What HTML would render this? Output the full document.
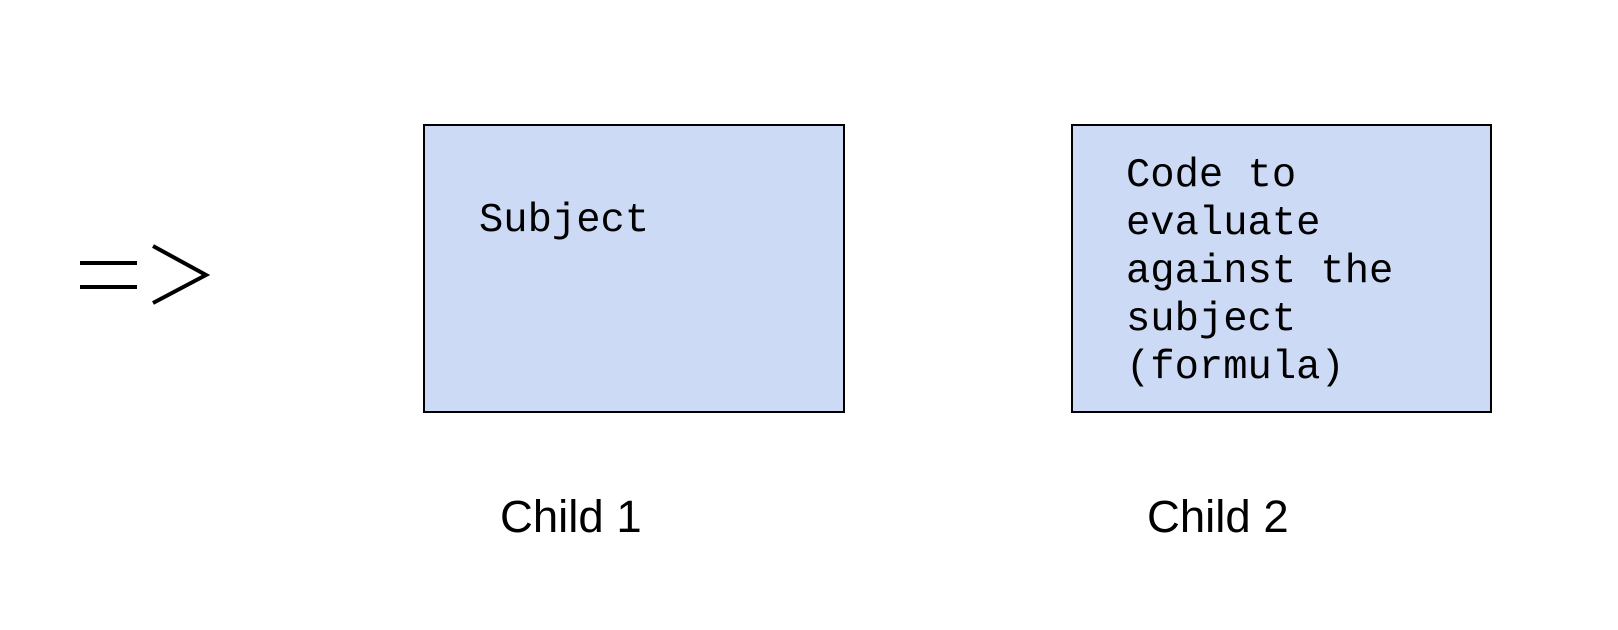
<!DOCTYPE html>
<html>
<head>
<meta charset="utf-8">
<style>
  html, body { margin: 0; padding: 0; background: #ffffff; }
  svg { display: block; }
  .mono { font-family: "Liberation Mono", monospace; font-size: 40.5px; fill: #000; }
  .sans { font-family: "Liberation Sans", sans-serif; font-size: 45.5px; fill: #000; }
</style>
</head>
<body>
<svg width="1618" height="630" viewBox="0 0 1618 630" xmlns="http://www.w3.org/2000/svg">
  <g stroke="#000" stroke-width="4" fill="none">
    <line x1="80" y1="263" x2="137" y2="263"/>
    <line x1="80" y1="287" x2="137" y2="287"/>
    <polyline points="153,246 206,275 153,303"/>
  </g>

  <rect x="424" y="125" width="420" height="287" fill="#cddaf5" stroke="#000" stroke-width="2"/>
  <text class="mono" x="479" y="231">Subject</text>

  <rect x="1072" y="125" width="419" height="287" fill="#cddaf5" stroke="#000" stroke-width="2"/>
  <text class="mono">
    <tspan x="1126" y="186">Code to</tspan>
    <tspan x="1126" y="234">evaluate</tspan>
    <tspan x="1126" y="282">against the</tspan>
    <tspan x="1126" y="330">subject</tspan>
    <tspan x="1126" y="378">(formula)</tspan>
  </text>

  <text class="sans" x="500" y="532">Child 1</text>
  <text class="sans" x="1147" y="532">Child 2</text>
</svg>
</body>
</html>
